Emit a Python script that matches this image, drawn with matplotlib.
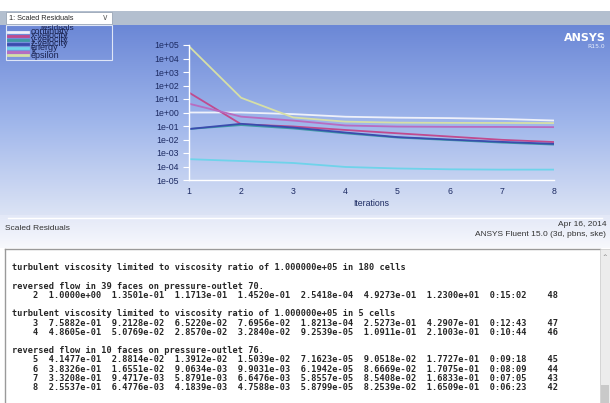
import numpy as np
import matplotlib
matplotlib.use("Agg")
import matplotlib.pyplot as plt
from matplotlib.patches import Rectangle

# ---------------- data ----------------
iterations = [1, 2, 3, 4, 5, 6, 7, 8]
continuity = [1.0, 1.0, 0.75882, 0.48605, 0.41477, 0.38326, 0.33208, 0.25537]
x_velocity = [30.0, 0.13501, 0.092128, 0.050769, 0.028814, 0.016551, 0.0094717, 0.0064776]
y_velocity = [0.06, 0.11713, 0.06522, 0.02857, 0.013912, 0.0090634, 0.0058791, 0.0041839]
z_velocity = [0.06, 0.14520, 0.076956, 0.03284, 0.015039, 0.0099031, 0.0066476, 0.0047588]
energy = [3.5e-4, 2.5418e-4, 1.8213e-4, 9.2539e-5, 7.1623e-5, 6.1942e-5, 5.8557e-5, 5.8799e-5]
k_res = [4.5, 0.49273, 0.25273, 0.10911, 0.090518, 0.086669, 0.085408, 0.082539]
epsilon = [8.0e4, 12.3, 0.42907, 0.21003, 0.17727, 0.17075, 0.16833, 0.16509]

series_names = ["continuity", "x-velocity", "y-velocity", "z-velocity", "energy", "k", "epsilon"]
series_values = [continuity, x_velocity, y_velocity, z_velocity, energy, k_res, epsilon]
series_colors = ["#eef1fa", "#c04a8e", "#3f9aa6", "#3a4cae", "#6fd3ea", "#b86cc0", "#d6dfa6"]

y_ticks = [1e-5, 1e-4, 1e-3, 1e-2, 1e-1, 1e0, 1e1, 1e2, 1e3, 1e4, 1e5]
y_tick_labels = ["1e-05", "1e-04", "1e-03", "1e-02", "1e-01", "1e+00",
                 "1e+01", "1e+02", "1e+03", "1e+04", "1e+05"]
x_ticks = iterations
x_tick_labels = [str(i) for i in iterations]

# console table (iterations 2..8)
table_iters = [2, 3, 4, 5, 6, 7, 8]
table_times = ["0:15:02", "0:12:43", "0:10:44", "0:09:18", "0:08:09", "0:07:05", "0:06:23"]
table_left = [48, 47, 46, 45, 44, 43, 42]

W, H = 610, 403
fig = plt.figure(figsize=(W / 100, H / 100), dpi=100)

# chrome / background axes in pixel coordinates
bg = fig.add_axes([0, 0, 1, 1])
bg.set_xlim(0, W)
bg.set_ylim(H, 0)
bg.axis("off")

# gradient of the graphics window
grad_top = np.array([0.42, 0.53, 0.84])
grad_mid = np.array([0.62, 0.71, 0.92])
grad_bot = np.array([0.86, 0.89, 0.96])
ys = np.linspace(0, 1, 200)[:, None]
col = np.where(ys < 0.5, grad_top + (grad_mid - grad_top) * (ys / 0.5),
               grad_mid + (grad_bot - grad_mid) * ((ys - 0.5) / 0.5))
img = np.repeat(col[:, None, :], 2, axis=1)
bg.imshow(img, extent=(0, W, 215, 25), aspect="auto", zorder=0)
foot = np.linspace(0, 1, 50)[:, None]
fcol = np.array([0.89, 0.91, 0.97]) + (np.array([0.97, 0.975, 0.99]) - np.array([0.89, 0.91, 0.97])) * foot
bg.imshow(np.repeat(fcol[:, None, :], 2, axis=1), extent=(0, W, 248, 215), aspect="auto", zorder=0)
bg.plot([8, 602], [218, 218], color="white", lw=1.0, zorder=1)

# header bar
bg.add_patch(Rectangle((0, 11), W, 14, facecolor="#b3bfcf", edgecolor="none", zorder=1))
bg.add_patch(Rectangle((6, 12), 106, 12, facecolor="white", edgecolor="#9aa6b6", lw=0.6, zorder=2))
bg.text(9, 18.3, "1: Scaled Residuals", fontsize=5.3, color="#2a2a2a", va="center",
        family="Liberation Sans", zorder=3)
bg.text(105, 18, "v", fontsize=5.5, color="#555555", va="center", ha="center",
        family="DejaVu Sans", zorder=3)

# ANSYS logo
bg.text(606, 38, "ANSYS", fontsize=8, color="white", fontweight="bold", ha="right",
        va="center", family="DejaVu Sans", zorder=3)
bg.text(605, 47, "R15.0", fontsize=4.3, color="#e8eefa", ha="right", va="center",
        family="DejaVu Sans", zorder=3)

# footer texts
bg.text(5, 229, "Scaled Residuals", fontsize=6, color="#333333", va="center",
        family="Liberation Sans", zorder=3)
bg.text(606, 225, "Apr 16, 2014", fontsize=6, color="#333333", va="center", ha="right",
        family="Liberation Sans", zorder=3)
bg.text(606, 235, "ANSYS Fluent 15.0 (3d, pbns, ske)", fontsize=6, color="#333333",
        va="center", ha="right", family="Liberation Sans", zorder=3)

# console panel
bg.add_patch(Rectangle((0, 248), W, H - 248, facecolor="white", edgecolor="none", zorder=1))
bg.plot([5, 600], [248.5, 248.5], color="#9a9a9a", lw=1.0, zorder=2)
bg.plot([5, 5], [248.5, H], color="#9a9a9a", lw=1.0, zorder=2)
bg.add_patch(Rectangle((600, 249), 10, H - 249, facecolor="#ececec", edgecolor="#c8c8c8", lw=0.5, zorder=2))
bg.add_patch(Rectangle((601, 385), 8, 18, facecolor="#c9c9c9", edgecolor="none", zorder=3))
bg.text(605, 257, "^", fontsize=4, color="#666666", ha="center", va="center", zorder=3)

def fmt_row(i):
    idx = iterations.index(table_iters[i])
    vals = [series_values[s][idx] for s in range(len(series_names))]
    s = "%5d" % table_iters[i]
    for v in vals:
        s += "  %.4e" % v
    s += "  %s    %d" % (table_times[i], table_left[i])
    return s

console_lines = [
    "turbulent viscosity limited to viscosity ratio of 1.000000e+05 in 180 cells",
    "",
    "reversed flow in 39 faces on pressure-outlet 70.",
    fmt_row(0),
    "",
    "turbulent viscosity limited to viscosity ratio of 1.000000e+05 in 5 cells",
    fmt_row(1),
    fmt_row(2),
    "",
    "reversed flow in 10 faces on pressure-outlet 76.",
    fmt_row(3),
    fmt_row(4),
    fmt_row(5),
    fmt_row(6),
]
y0, dy = 268, 9.2
for n, line in enumerate(console_lines):
    if line:
        bg.text(12, y0 + n * dy, line, fontsize=6.25, family="DejaVu Sans Mono",
                fontweight="bold", color="#262626", va="center", zorder=3)

# ---------------- residual plot ----------------
left, right, top, bottom = 189, 554, 45, 180
ax = fig.add_axes([left / W, 1 - bottom / H, (right - left) / W, (bottom - top) / H])
ax.set_facecolor("none")
ax.set_yscale("log")
lines = []
for name, vals, c in zip(series_names, series_values, series_colors):
    ln, = ax.plot(iterations, vals, color=c, lw=1.3, label=name, solid_capstyle="butt")
    lines.append(ln)
ax.set_xlim(1, 8)
ax.set_ylim(1e-5, 1e5)
ax.set_yticks(y_ticks)
ax.set_yticklabels(y_tick_labels)
ax.set_xticks(x_ticks)
ax.set_xticklabels(x_tick_labels)
for s in ["top", "right"]:
    ax.spines[s].set_visible(False)
for s in ["left", "bottom"]:
    ax.spines[s].set_color("white")
    ax.spines[s].set_linewidth(1.0)
ax.tick_params(axis="y", which="major", length=4, width=0.8, color="white", pad=3,
               labelsize=6.3, labelcolor="#1d2b63")
ax.tick_params(axis="y", which="minor", length=2, width=0.6, color="white")
ax.tick_params(axis="x", which="both", length=0, pad=5, labelsize=6.3, labelcolor="#1d2b63")
for t in ax.get_xticklabels() + ax.get_yticklabels():
    t.set_family("Liberation Sans")
ax.set_xlabel("Iterations", fontsize=6.3, color="#1d2b63", labelpad=2, family="Liberation Sans")

# legend box (cramped, as in the reference)
bg.add_patch(Rectangle((6, 25), 106, 35, facecolor="none", edgecolor="#dfe6f7", lw=0.8, zorder=2))
bg.text(40, 28, "residuals", fontsize=6, color="#1a2350", va="center",
        family="Liberation Sans", zorder=4)
for n, ln in enumerate(lines):
    yy = 32 + n * 3.9
    bg.plot([8, 28], [yy, yy], color=ln.get_color(), lw=2.0, zorder=3)
    bg.text(31, yy, ln.get_label(), fontsize=6.5, color="#1a2350", va="center",
            family="Liberation Sans", zorder=4)

fig.savefig("out.png", dpi=100)
